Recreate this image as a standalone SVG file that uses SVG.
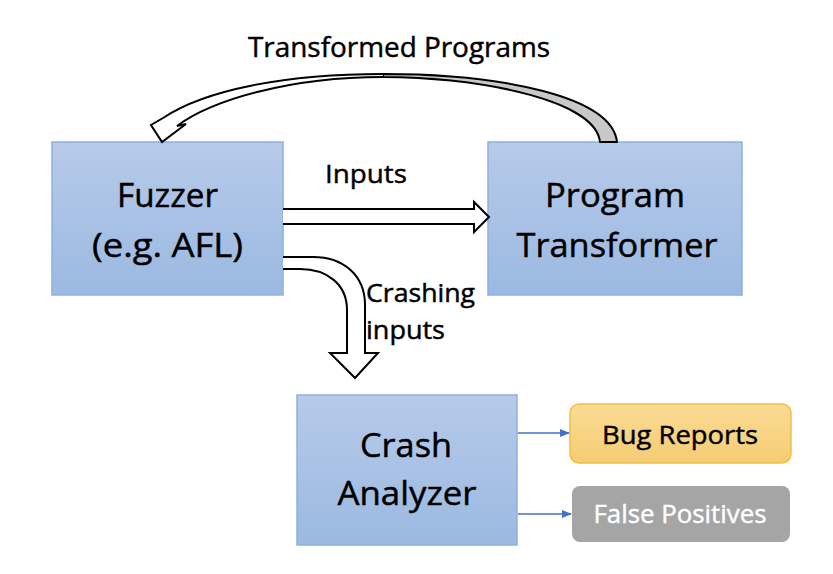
<svg xmlns="http://www.w3.org/2000/svg" width="833" height="574" viewBox="0 0 833 574">
<defs>
<linearGradient id="blue" x1="0" y1="0" x2="0" y2="1">
<stop offset="0" stop-color="#b7cae9"/>
<stop offset="1" stop-color="#9bb9e1"/>
</linearGradient>
<linearGradient id="gold" x1="0" y1="0" x2="0" y2="1">
<stop offset="0" stop-color="#fadb94"/>
<stop offset="1" stop-color="#f5cc74"/>
</linearGradient>
<marker id="ah" markerWidth="10" markerHeight="8" refX="9" refY="4" orient="auto" markerUnits="userSpaceOnUse">
<path d="M0,0 L10,4 L0,8 Z" fill="#4472c4"/>
</marker>
<style>
.box{fill:url(#blue);stroke:#8eb0df;stroke-width:1.5}
.t{font-family:"Open Sans","Noto Sans","Liberation Sans",sans-serif;fill:#000;stroke:#000;stroke-width:0.45;text-anchor:middle}
.big{font-size:32px}
.mid{font-size:26px}
.block{fill:#fff;stroke:#000;stroke-width:2;stroke-linejoin:miter}
.blue{stroke:#4472c4;stroke-width:1.3;fill:none}
</style>
</defs>
<rect width="833" height="574" fill="#fff"/>

<g id="fuzzer">
<rect class="box" x="52" y="142" width="231" height="153"/>
<text class="t big" x="167.5" y="207" textLength="101" lengthAdjust="spacingAndGlyphs">Fuzzer</text>
<text class="t big" x="167.5" y="257" textLength="151" lengthAdjust="spacingAndGlyphs">(e.g. AFL)</text>
</g>

<g id="program-transformer">
<rect class="box" x="488" y="142" width="254" height="153"/>
<text class="t big" x="615" y="207" textLength="140" lengthAdjust="spacingAndGlyphs">Program</text>
<text class="t big" x="617" y="257" textLength="201" lengthAdjust="spacingAndGlyphs">Transformer</text>
</g>

<g id="crash-analyzer">
<rect class="box" x="297" y="395" width="220" height="150"/>
<text class="t big" x="406" y="457" textLength="92" lengthAdjust="spacingAndGlyphs">Crash</text>
<text class="t big" x="407" y="505" textLength="139" lengthAdjust="spacingAndGlyphs">Analyzer</text>
</g>

<g id="bug-reports">
<rect x="570" y="404" width="221" height="59" rx="9" fill="url(#gold)" stroke="#f0c046" stroke-width="1.5"/>
<text class="t mid" x="680" y="444" textLength="156" lengthAdjust="spacingAndGlyphs">Bug Reports</text>
</g>

<g id="false-positives">
<rect x="572" y="486" width="218" height="56" rx="8" fill="#a5a5a5"/>
<text class="t mid" x="680" y="523" textLength="173" lengthAdjust="spacingAndGlyphs" style="fill:#fff;stroke:#fff">False Positives</text>
</g>

<g id="connectors">
<path d="M383 74 C500 74 612 96 617 142 L600 142 C596 102 490 78 383 77 Z" fill="#c8c8c8" stroke="#000" stroke-width="2" stroke-linejoin="round"/>
<path d="M383 74 C285 74 205 90 163 118 L151 125 L162 142 L186 124 L177 126 C212 100 290 77 383 77" fill="#fff" stroke="#000" stroke-width="2" stroke-linejoin="miter"/>
<path class="block" d="M283 209 L474 209 L474 202 L489 217 L474 232 L474 224 L283 224"/>
<path class="block" d="M283 257 L313 257 C343 257 365 275 365 305 L365 353 L378 353 L355 378 L330 353 L347 353 L347 310 C347 285 328 269 300 269 L283 269"/>
<line class="blue" x1="518" y1="433" x2="569" y2="433" marker-end="url(#ah)"/>
<line class="blue" x1="518" y1="514" x2="571" y2="514" marker-end="url(#ah)"/>
</g>

<g id="labels">
<text class="t" x="399" y="57" font-size="28" textLength="302" lengthAdjust="spacingAndGlyphs">Transformed Programs</text>
<text class="t mid" x="366" y="183" textLength="82" lengthAdjust="spacingAndGlyphs">Inputs</text>
<text class="t" x="420.5" y="302" font-size="25" textLength="109" lengthAdjust="spacingAndGlyphs">Crashing</text>
<text class="t" x="405.5" y="339" font-size="25" textLength="79" lengthAdjust="spacingAndGlyphs">inputs</text>
</g>
</svg>
